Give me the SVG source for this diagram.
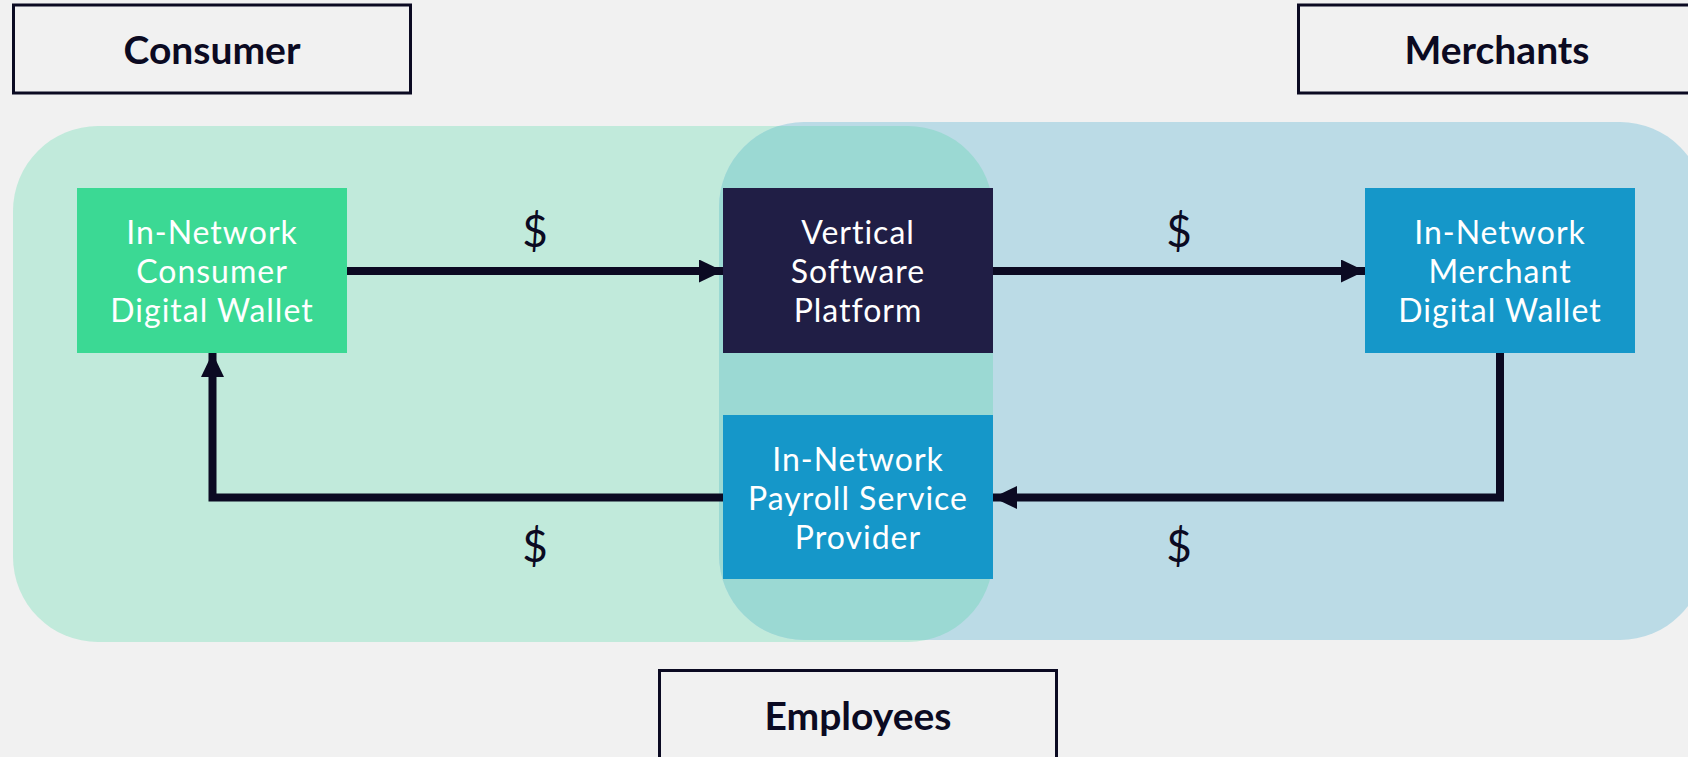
<svg xmlns="http://www.w3.org/2000/svg" width="1688" height="757" viewBox="0 0 1688 757">
<style>
.bg{fill:#f1f1f1}
.lbl{fill:none;stroke:#0b0a22;stroke-width:3}
.lbltxt{font-family:Lato,"Liberation Sans",sans-serif;font-weight:700;font-size:39px;fill:#0b0a22;text-anchor:middle}
.ntxt{font-family:Lato,"Liberation Sans",sans-serif;font-size:32px;letter-spacing:1px;fill:#ffffff;text-anchor:middle}
.dol{font-family:Lato,"Liberation Sans",sans-serif;font-size:44px;fill:#0b0a22;text-anchor:middle}
.conn{fill:none;stroke:#0b0a22;stroke-width:8}
</style>
<defs>
<marker id="ah" viewBox="0 0 24 23" refX="24" refY="11.5" markerWidth="24" markerHeight="23" markerUnits="userSpaceOnUse" orient="auto">
<path d="M0,0 L24,11.5 L0,23 Z" fill="#0b0a22"/>
</marker>
<clipPath id="greenClip"><rect x="13" y="126" width="980" height="516" rx="85" ry="85"/></clipPath>
</defs>
<rect class="bg" x="0" y="0" width="1688" height="757"/>
<g id="regions">
<rect x="13" y="126" width="980" height="516" rx="85" ry="85" fill="#c1eadb"/>
<rect x="719" y="122" width="986" height="518" rx="85" ry="85" fill="#bbdbe6"/>
<rect x="719" y="122" width="986" height="518" rx="85" ry="85" fill="#9bd9d3" clip-path="url(#greenClip)"/>
</g>
<g id="label-consumer">
<rect class="lbl" x="13.5" y="5" width="397" height="88"/>
<text class="lbltxt" x="212" y="64">Consumer</text>
</g>
<g id="label-merchants">
<rect class="lbl" x="1298.5" y="5" width="397" height="88"/>
<text class="lbltxt" x="1497" y="64">Merchants</text>
</g>
<g id="label-employees">
<rect class="lbl" x="659.5" y="670.5" width="397" height="100"/>
<text class="lbltxt" x="858" y="730">Employees</text>
</g>
<g id="connectors">
<line class="conn" x1="347" y1="271" x2="723" y2="271" marker-end="url(#ah)"/>
<line class="conn" x1="993" y1="271" x2="1365" y2="271" marker-end="url(#ah)"/>
<polyline class="conn" points="1500,353 1500,497.5 993,497.5" marker-end="url(#ah)"/>
<polyline class="conn" points="723,497.5 212.5,497.5 212.5,353" marker-end="url(#ah)"/>
<text class="dol" x="535" y="247">$</text>
<text class="dol" x="1179" y="247">$</text>
<text class="dol" x="535" y="562">$</text>
<text class="dol" x="1179" y="562">$</text>
</g>
<g id="node-consumer-wallet">
<rect x="77" y="188" width="270" height="165" fill="#3bd994"/>
<text class="ntxt" x="212" y="244">In-Network</text>
<text class="ntxt" x="212" y="283">Consumer</text>
<text class="ntxt" x="212" y="322">Digital Wallet</text>
</g>
<g id="node-vertical-software">
<rect x="723" y="188" width="270" height="165" fill="#201e45"/>
<text class="ntxt" x="858" y="244">Vertical</text>
<text class="ntxt" x="858" y="283">Software</text>
<text class="ntxt" x="858" y="322">Platform</text>
</g>
<g id="node-merchant-wallet">
<rect x="1365" y="188" width="270" height="165" fill="#1597c9"/>
<text class="ntxt" x="1500" y="244">In-Network</text>
<text class="ntxt" x="1500" y="283">Merchant</text>
<text class="ntxt" x="1500" y="322">Digital Wallet</text>
</g>
<g id="node-payroll">
<rect x="723" y="415" width="270" height="164" fill="#1597c9"/>
<text class="ntxt" x="858" y="471">In-Network</text>
<text class="ntxt" x="858" y="510">Payroll Service</text>
<text class="ntxt" x="858" y="549">Provider</text>
</g>
</svg>
